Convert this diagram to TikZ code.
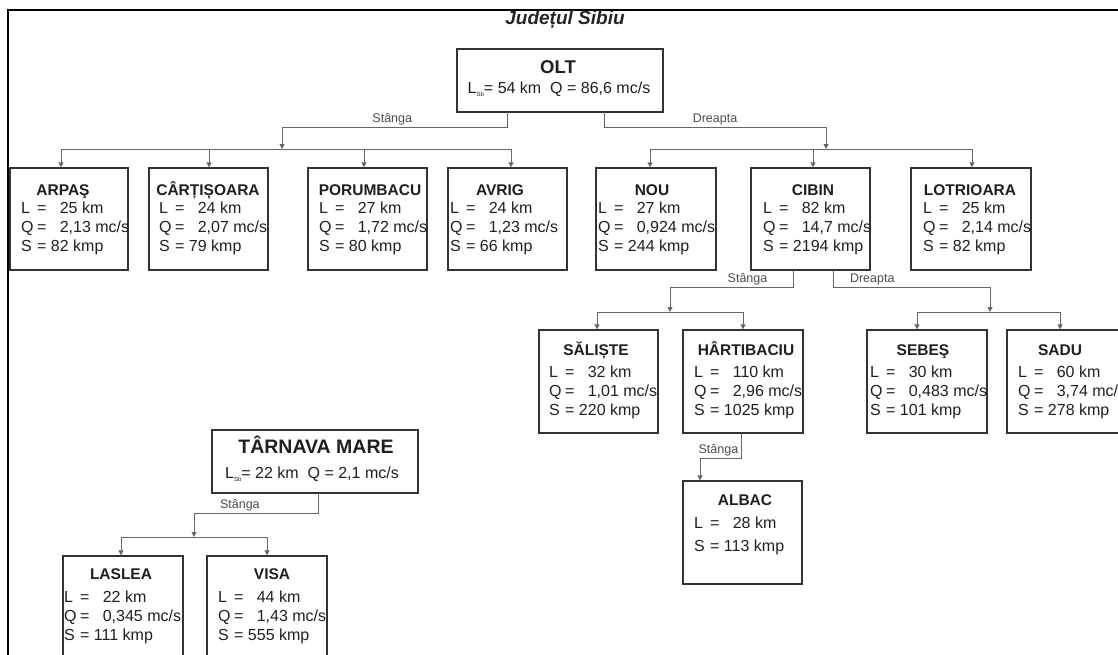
\documentclass[tikz,border=0pt]{standalone}
\usepackage{fontspec}
\setmainfont{Liberation Sans}
\usetikzlibrary{arrows.meta}
\tikzset{
  rbox/.style={draw=black!80, line width=1.3pt, inner sep=0pt},
  conn/.style={draw=black!60, line width=0.9pt},
  arr/.style={conn, -{Triangle[length=5pt,width=5pt]}},
  lbl/.style={font=\fontsize{12.5}{14}\selectfont, text=black!70, inner sep=1.5pt},
  ttl/.style={font=\fontsize{15.5}{18}\selectfont\bfseries, text=black!88, anchor=base, inner sep=0pt},
  bigttl/.style={font=\fontsize{18.5}{22}\selectfont\bfseries, text=black!88, anchor=base, inner sep=0pt},
  txt/.style={font=\fontsize{16}{19}\selectfont, text=black!88, anchor=base west, inner sep=0pt},
  ctxt/.style={font=\fontsize{16}{19}\selectfont, text=black!88, anchor=base, inner sep=0pt},
}
\newcommand\rivlab[1]{\makebox[1.0em][l]{#1}=}
\newcommand\rivlq[2]{\rivlab{#1}\ \hspace{0.55em}#2}
\newcommand\rivs[1]{\rivlab{S}\ #1}
% box: name, x1, y1, x2, y2
\newcommand\rbx[5]{\node[rbox, minimum width={#4-#2}, minimum height={#5-#3}] (#1) at ({(#2+#4)/2},{(#3+#5)/2}) {};}
% body: name, x, baseline, L, Q, S
\newcommand\rbody[6]{%
  \node[txt] (#1-l) at (#2,#3) {\rivlq{L}{#4}};
  \node[txt] (#1-q) at (#2,{#3+19}) {\rivlq{Q}{#5}};
  \node[txt] (#1-s) at (#2,{#3+38}) {\rivs{#6}};}
\begin{document}
\begin{tikzpicture}[x=1pt,y=-1pt]
\useasboundingbox (0,0) rectangle (1118,654);
\clip (0,0) rectangle (1118,654);
% frame
\draw[line width=2.2pt, line cap=rect] (8,660) -- (8,10) -- (1125,10);
\node[font=\fontsize{19}{22}\selectfont\bfseries\itshape, text=black!85, anchor=base, inner sep=0pt] (title) at (565,24) {Județul Sibiu};

% OLT
\rbx{olt}{457}{49}{663}{112}
\node[bigttl] (olt-t) at (558,73.5) {OLT};
\node[ctxt] (olt-d) at (559,93.5) {L\raisebox{-0.35ex}{\fontsize{6}{6}\selectfont Sb}= 54 km\ \ Q = 86,6 mc/s};

% row 1
\rbx{arpas}{10}{168}{128}{270}
\rbx{cart}{149}{168}{268}{270}
\rbx{porum}{308}{168}{427}{270}
\rbx{avrig}{448}{168}{567}{270}
\rbx{nou}{596}{168}{716}{270}
\rbx{cibin}{751}{168}{870}{270}
\rbx{lotr}{911}{168}{1031}{270}
\node[ttl] (arpas-t) at (63,195.5) {ARPAŞ};
\node[ttl] (cart-t) at (208,195.5) {CÂRȚIȘOARA};
\node[ttl] (porum-t) at (370,195.5) {PORUMBACU};
\node[ttl] (avrig-t) at (500,195.5) {AVRIG};
\node[ttl] (nou-t) at (652,195.5) {NOU};
\node[ttl] (cibin-t) at (813,195.5) {CIBIN};
\node[ttl] (lotr-t) at (970,195.5) {LOTRIOARA};
\rbody{arpas}{21}{213.5}{25 km}{2,13 mc/s}{82 kmp}
\rbody{cart}{159}{213.5}{24 km}{2,07 mc/s}{79 kmp}
\rbody{porum}{319}{213.5}{27 km}{1,72 mc/s}{80 kmp}
\rbody{avrig}{450}{213.5}{24 km}{1,23 mc/s}{66 kmp}
\rbody{nou}{598}{213.5}{27 km}{0,924 mc/s}{244 kmp}
\rbody{cibin}{763}{213.5}{82 km}{14,7 mc/s}{2194 kmp}
\rbody{lotr}{923}{213.5}{25 km}{2,14 mc/s}{82 kmp}

% row 2
\rbx{salis}{539}{330}{658}{433}
\rbx{hart}{683}{330}{803}{433}
\rbx{sebes}{867}{330}{987}{433}
\rbx{sadu}{1007}{330}{1127}{433}
\node[ttl] (salis-t) at (596,355) {SĂLIȘTE};
\node[ttl] (hart-t) at (746,355) {HÂRTIBACIU};
\node[ttl] (sebes-t) at (923,355) {SEBEŞ};
\node[ttl] (sadu-t) at (1060,355) {SADU};
\rbody{salis}{549}{377}{32 km}{1,01 mc/s}{220 kmp}
\rbody{hart}{694}{377}{110 km}{2,96 mc/s}{1025 kmp}
\rbody{sebes}{870}{377}{30 km}{0,483 mc/s}{101 kmp}
\rbody{sadu}{1018}{377}{60 km}{3,74 mc/s}{278 kmp}

% ALBAC
\rbx{albac}{683}{481}{802}{584}
\node[ttl] (albac-t) at (745,505.5) {ALBAC};
\node[txt] (albac-l) at (694,528.5) {\rivlq{L}{28 km}};
\node[txt] (albac-s) at (694,551.5) {\rivs{113 kmp}};

% TARNAVA MARE
\rbx{tarn}{212}{430}{418}{493}
\node[font=\fontsize{19.5}{22}\selectfont\bfseries, text=black!88, anchor=base, inner sep=0pt] (tarn-t) at (316,453) {TÂRNAVA MARE};
\node[ctxt] (tarn-d) at (312,478.5) {L\raisebox{-0.35ex}{\fontsize{6}{6}\selectfont Sb}= 22 km\ \ Q = 2,1 mc/s};
\rbx{lasl}{63}{556}{183}{700}
\rbx{visa}{207}{556}{327}{700}
\node[ttl] (lasl-t) at (121,579.5) {LASLEA};
\node[ttl] (visa-t) at (272,579.5) {VISA};
\rbody{lasl}{64}{602}{22 km}{0,345 mc/s}{111 kmp}
\rbody{visa}{218}{602}{44 km}{1,43 mc/s}{555 kmp}

% connector points
\coordinate (oltL) at (507,112);
\coordinate (oltR) at (604,112);
\coordinate (jL) at (282,149);
\coordinate (jR) at (826,149);
\coordinate (bL1) at (61,149);
\coordinate (bL2) at (209,149);
\coordinate (bL3) at (364,149);
\coordinate (bL4) at (511,149);
\coordinate (bR1) at (650,149);
\coordinate (bR2) at (813,149);
\coordinate (bR3) at (972,149);
% OLT branches
\draw[arr] (oltL) -- (507,127) -- node[lbl, above, pos=0.51]{Stânga} (282,127) -- (jL);
\draw[arr] (oltR) -- (604,127) -- node[lbl, above, pos=0.5]{Dreapta} (826,127) -- (jR);
\draw[conn] (bL1) -- (bL4);
\draw[conn] (bR1) -- (bR3);
\draw[arr] (bL1) -- (bL1 |- arpas.north);
\draw[arr] (bL2) -- (bL2 |- cart.north);
\draw[arr] (bL3) -- (bL3 |- porum.north);
\draw[arr] (bL4) -- (bL4 |- avrig.north);
\draw[arr] (bR1) -- (bR1 |- nou.north);
\draw[arr] (bR2) -- (bR2 |- cibin.north);
\draw[arr] (bR3) -- (bR3 |- lotr.north);

% CIBIN branches
\coordinate (cL) at (793,270);
\coordinate (cR) at (833,270);
\coordinate (jcL) at (670,312);
\coordinate (jcR) at (990,312);
\coordinate (b2a) at (597,312);
\coordinate (b2b) at (743,312);
\coordinate (b2c) at (917,312);
\coordinate (b2d) at (1060,312);
\draw[arr] (cL) -- (793,287) -- node[lbl, above, pos=0.37]{Stânga} (670,287) -- (jcL);
\draw[arr] (cR) -- (833,287) -- node[lbl, above, pos=0.25]{Dreapta} (990,287) -- (jcR);
\draw[conn] (b2a) -- (b2b);
\draw[conn] (b2c) -- (b2d);
\draw[arr] (b2a) -- (b2a |- salis.north);
\draw[arr] (b2b) -- (b2b |- hart.north);
\draw[arr] (b2c) -- (b2c |- sebes.north);
\draw[arr] (b2d) -- (b2d |- sadu.north);

% HARTIBACIU -> ALBAC
\coordinate (hS) at (741,433);
\coordinate (hA) at (700,458);
\draw[arr] (hS) -- (741,458) -- node[lbl, above, pos=0.55]{Stânga} (hA) -- (hA |- albac.north);

% TARNAVA branches
\coordinate (tS) at (318,493);
\coordinate (jt) at (194,537);
\coordinate (bt1) at (121,537);
\coordinate (bt2) at (267,537);
\draw[arr] (tS) -- (318,513) -- node[lbl, above, pos=0.63]{Stânga} (194,513) -- (jt);
\draw[conn] (bt1) -- (bt2);
\draw[arr] (bt1) -- (bt1 |- lasl.north);
\draw[arr] (bt2) -- (bt2 |- visa.north);
\end{tikzpicture}
\end{document}
